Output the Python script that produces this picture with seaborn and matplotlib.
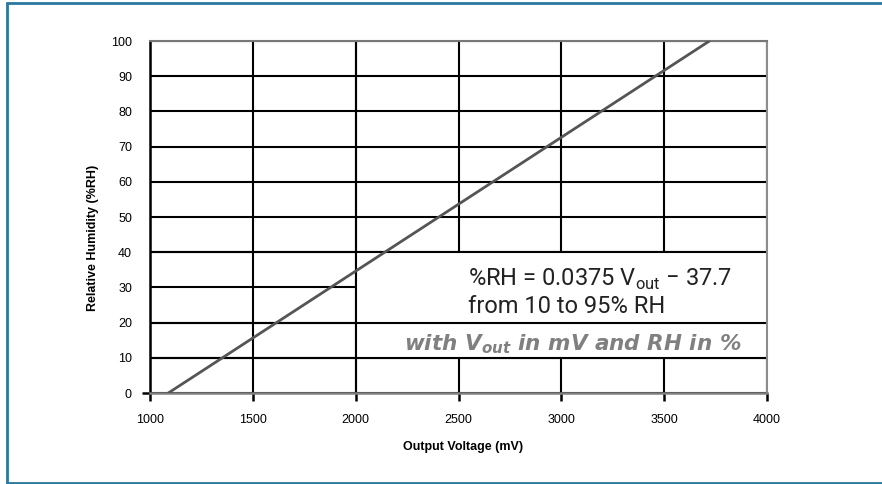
import matplotlib
matplotlib.use("Agg")
import matplotlib.pyplot as plt
from matplotlib.lines import Line2D
from matplotlib.patches import Rectangle
import seaborn as sns

# -----------------------------------------------------------------------------
# data
# -----------------------------------------------------------------------------
output_mv = [1089, 3720]
humidity_rh = [0, 100]

x_ticks = [1000, 1500, 2000, 2500, 3000, 3500, 4000]
y_ticks = [0, 10, 20, 30, 40, 50, 60, 70, 80, 90, 100]

equation_line1 = "%RH = 0.0375 V$_{\\mathregular{out}}$ \u2212 37.7"
equation_line2 = "from 10 to 95% RH"
units_text = "with V$_{\\mathregular{out}}$ in mV and RH in %"

# -----------------------------------------------------------------------------
# style
# -----------------------------------------------------------------------------
sns.set_theme(style="white")
plt.rcParams["font.family"] = ["Liberation Sans", "DejaVu Sans"]
plt.rcParams["mathtext.fontset"] = "custom"

fig = plt.figure(figsize=(8.82, 4.84), dpi=100)
ax = fig.add_axes([150 / 882, 1 - 393 / 484, 617 / 882, 352 / 484])

ax.set_xlim(x_ticks[0], x_ticks[-1])
ax.set_ylim(y_ticks[0], y_ticks[-1])
ax.set_xticks(x_ticks)
ax.set_yticks(y_ticks)

# black grid, partly hidden behind the white legend panel
ax.grid(True, color="black", linewidth=1.5)
ax.add_patch(Rectangle((2000, 10), 2000, 30, facecolor="white",
                       edgecolor="none", zorder=1.6))
for yv in (10, 20, 40):
    ax.axhline(yv, color="black", linewidth=1.5, zorder=1.7)
ax.axvline(2000, color="black", linewidth=1.5, zorder=1.7)

# transfer line
sns.lineplot(x=output_mv, y=humidity_rh, ax=ax, color="#555555",
             linewidth=2.0, zorder=3)

# spines
for side, col, lw in (("left", "black", 1.8), ("bottom", "#808080", 1.8),
                      ("top", "#777777", 1.5), ("right", "#8c8c8c", 1.5)):
    ax.spines[side].set_visible(True)
    ax.spines[side].set_color(col)
    ax.spines[side].set_linewidth(lw)

# ticks
ax.tick_params(axis="x", direction="out", length=6, width=1.8,
               color="black", pad=9, labelsize=9, labelcolor="black", bottom=True)
ax.tick_params(axis="y", direction="out", length=0, width=1.8,
               color="black", pad=13, labelsize=9, labelcolor="black", left=True)
first = ax.yaxis.get_major_ticks()[0]
first.tick1line.set_markersize(6)
first.tick1line.set_markeredgewidth(1.8)

ax.set_xlabel("Output Voltage (mV)", fontsize=9, fontweight="bold", color="black")
ax.set_ylabel("Relative Humidity (%RH)", fontsize=9, fontweight="bold", color="black")
ax.xaxis.set_label_coords(0.507, -0.135)
ax.yaxis.set_label_coords(-0.083, 0.44)

# annotations
eq_font = dict(fontsize=17, color="#222222", family=["Roboto", "DejaVu Sans"],
               va="baseline", ha="left", zorder=4)
ax.text(2545, 30.5, equation_line1, **eq_font)
ax.text(2545, 22.8, equation_line2, **eq_font)
ax.text(2235, 12.2, units_text, fontsize=15.5, color="#808080",
        family=["DejaVu Sans"], fontweight="bold", style="italic",
        va="baseline", ha="left", zorder=4)

# page frame
frame_col = "#2a78a0"
fig.add_artist(Line2D([7 / 882, 1], [1 - 3 / 484] * 2, color=frame_col,
                      linewidth=2, transform=fig.transFigure))
fig.add_artist(Line2D([7 / 882] * 2, [1 - 3 / 484, 1 - 483 / 484], color=frame_col,
                      linewidth=2, transform=fig.transFigure))
fig.add_artist(Line2D([7 / 882, 1], [1 - 483 / 484] * 2, color=frame_col,
                      linewidth=2, transform=fig.transFigure))

fig.savefig("out.png", dpi=100)
